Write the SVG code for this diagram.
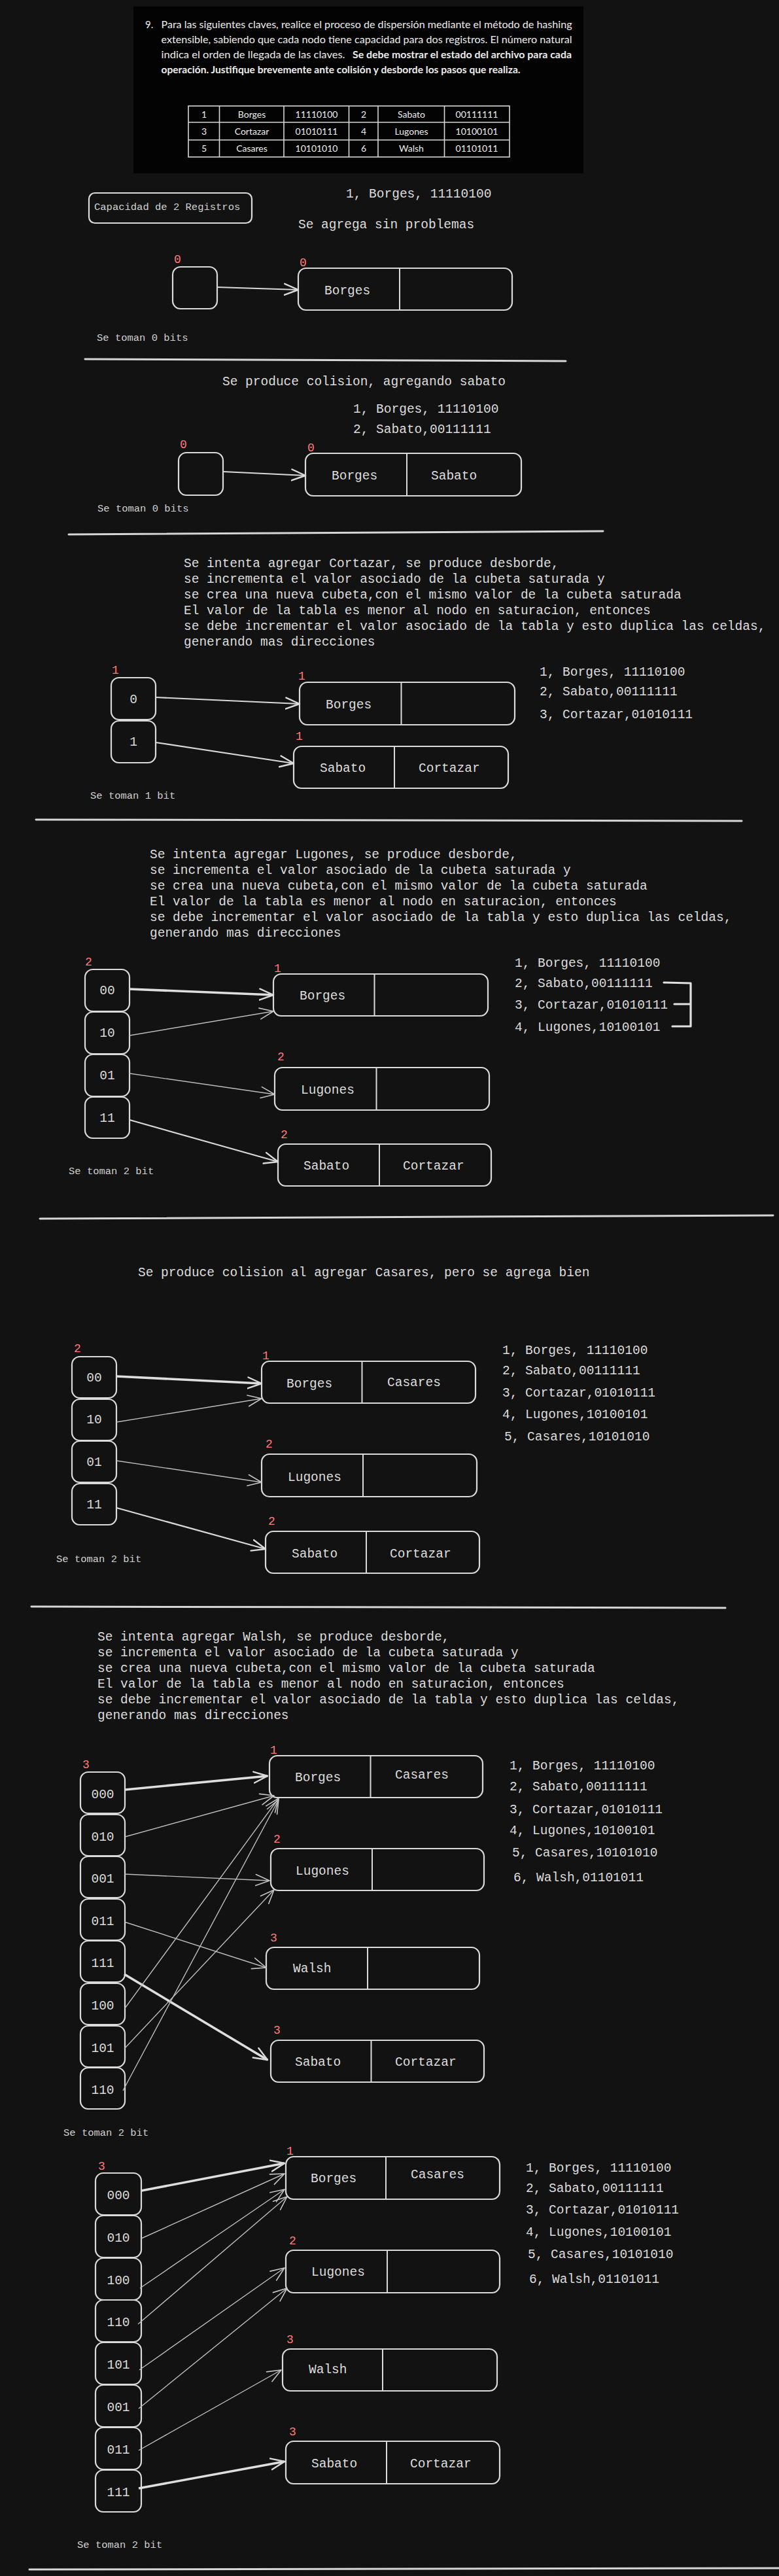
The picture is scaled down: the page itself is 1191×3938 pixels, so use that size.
<svg xmlns="http://www.w3.org/2000/svg" width="1191" height="3938" viewBox="0 0 1191 3938">
<defs>
<style>
.t{font-family:"Liberation Mono","DejaVu Sans Mono",monospace;font-size:19.5px;fill:#dcdcdc}
.s{font-family:"Liberation Mono","DejaVu Sans Mono",monospace;font-size:15.5px;fill:#d0d0d0}
.r{font-family:"Liberation Mono","DejaVu Sans Mono",monospace;font-size:18px;fill:#ff7b7b}
.m{text-anchor:middle}
.h{font-family:"Lato","Liberation Sans",sans-serif;font-size:15px;fill:#ececec}
.hb{font-weight:bold}
.ht{font-family:"Lato","Liberation Sans",sans-serif;font-size:14px;fill:#ececec;text-anchor:middle}
.b{fill:#121212;stroke:#dadada;stroke-width:2.2}
.d{stroke:#dadada;stroke-width:2}
.k{stroke:#d8d8d8;stroke-width:2.2;fill:none;marker-end:url(#a)}
.kk{stroke:#dedede;stroke-width:3.6;fill:none;marker-end:url(#a)}
.kt{stroke:#bdbdbd;stroke-width:1.4;fill:none;marker-end:url(#a2)}
.sep{stroke:#d6d6d6;stroke-width:3;fill:none;stroke-linecap:round}
</style>
<marker id="a" viewBox="0 0 24 20" refX="22" refY="10" markerWidth="24" markerHeight="20" markerUnits="userSpaceOnUse" orient="auto"><path d="M1,1.5 L22,10 L1,18.5" fill="none" stroke="#dadada" stroke-width="2.4" stroke-linecap="round" stroke-linejoin="round"/></marker>
<marker id="a2" viewBox="0 0 24 20" refX="22" refY="10" markerWidth="24" markerHeight="20" markerUnits="userSpaceOnUse" orient="auto"><path d="M1,1.5 L22,10 L1,18.5" fill="none" stroke="#c4c4c4" stroke-width="1.6" stroke-linecap="round" stroke-linejoin="round"/></marker>
</defs>
<rect x="0" y="0" width="1191" height="3938" fill="#121212"/>

<g id="enunciado">
<rect x="204" y="10" width="688" height="255" fill="#030303"/>
<text class="h" x="222" y="43">9.</text>
<text class="h" x="246.5" y="43" textLength="628" lengthAdjust="spacingAndGlyphs">Para las siguientes claves, realice el proceso de dispersión mediante el método de hashing</text>
<text class="h" x="246.5" y="66" textLength="628" lengthAdjust="spacingAndGlyphs">extensible, sabiendo que cada nodo tiene capacidad para dos registros. El número natural</text>
<text class="h" x="246.5" y="89" textLength="281" lengthAdjust="spacingAndGlyphs">indica el orden de llegada de las claves.</text>
<text class="h hb" x="539" y="89" textLength="335" lengthAdjust="spacingAndGlyphs">Se debe mostrar el estado del archivo para cada</text>
<text class="h hb" x="246.5" y="112" textLength="549" lengthAdjust="spacingAndGlyphs">operación. Justifique brevemente ante colisión y desborde los pasos que realiza.</text>
<g fill="none" stroke="#d8d8d8" stroke-width="1.6">
<rect x="288" y="162" width="491" height="78"/>
<line x1="288" y1="187" x2="779" y2="187"/>
<line x1="288" y1="214" x2="779" y2="214"/>
<line x1="335.5" y1="162" x2="335.5" y2="240"/>
<line x1="434" y1="162" x2="434" y2="240"/>
<line x1="533.5" y1="162" x2="533.5" y2="240"/>
<line x1="578" y1="162" x2="578" y2="240"/>
<line x1="679.5" y1="162" x2="679.5" y2="240"/>
</g>
<text class="ht" x="312" y="180">1</text><text class="ht" x="385" y="180">Borges</text><text class="ht" x="484" y="180">11110100</text><text class="ht" x="556" y="180">2</text><text class="ht" x="629" y="180">Sabato</text><text class="ht" x="729" y="180">00111111</text>
<text class="ht" x="312" y="206">3</text><text class="ht" x="385" y="206">Cortazar</text><text class="ht" x="484" y="206">01010111</text><text class="ht" x="556" y="206">4</text><text class="ht" x="629" y="206">Lugones</text><text class="ht" x="729" y="206">10100101</text>
<text class="ht" x="312" y="232">5</text><text class="ht" x="385" y="232">Casares</text><text class="ht" x="484" y="232">10101010</text><text class="ht" x="556" y="232">6</text><text class="ht" x="629" y="232">Walsh</text><text class="ht" x="729" y="232">01101011</text>
</g>

<g id="separadores">
<path class="sep" d="M130,549 L865,552"/>
<path class="sep" d="M105,817 L922,812"/>
<path class="sep" d="M55,1253 L1134,1255"/>
<path class="sep" d="M61,1863 L1182,1858" stroke-width="2.5"/>
<path class="sep" d="M48,2456 L1109,2458" stroke-width="2.5"/>
<path class="sep" d="M45,3928 L1191,3926" stroke-width="2.5"/>
</g>

<!-- Seccion 1 -->
<g id="capacidad">
<rect class="b" x="136" y="295" width="249" height="46" rx="9"/>
<text class="s" x="144" y="321">Capacidad de 2 Registros</text>
</g>
<g id="s1-textos">
<text class="t" x="529" y="302">1, Borges, 11110100</text>
<text class="t" x="456" y="349">Se agrega sin problemas</text>
<text class="s" x="148" y="521">Se toman 0 bits</text>
</g>
<g id="s1-tabla">
<text class="r" x="266" y="402">0</text>
<rect class="b" x="264" y="408" width="68" height="64" rx="12"/>
</g>
<g id="s1-cubeta">
<text class="r" x="458" y="407">0</text>
<rect class="b" x="456" y="410" width="327" height="64" rx="12"/>
<line class="d" x1="611" y1="410" x2="611" y2="474"/>
<text class="t" x="496" y="450">Borges</text>
</g>

<!-- Seccion 2 -->
<g id="s2-textos">
<text class="t" x="340" y="589">Se produce colision, agregando sabato</text>
<text class="t" x="540" y="631">1, Borges, 11110100</text>
<text class="t" x="540" y="662">2, Sabato,00111111</text>
<text class="s" x="149" y="782">Se toman 0 bits</text>
</g>
<g id="s2-tabla">
<text class="r" x="275" y="685">0</text>
<rect class="b" x="273" y="692" width="68" height="65" rx="12"/>
</g>
<g id="s2-cubeta">
<text class="r" x="470" y="690">0</text>
<rect class="b" x="467" y="693" width="330" height="65" rx="12"/>
<line class="d" x1="622" y1="693" x2="622" y2="758"/>
<text class="t" x="507" y="733">Borges</text>
<text class="t" x="659" y="733">Sabato</text>
</g>

<!-- Seccion 3 -->
<g id="s3-textos">
<text class="t" x="281" y="867">Se intenta agregar Cortazar, se produce desborde,</text>
<text class="t" x="281" y="891">se incrementa el valor asociado de la cubeta saturada y</text>
<text class="t" x="281" y="915">se crea una nueva cubeta,con el mismo valor de la cubeta saturada</text>
<text class="t" x="281" y="939">El valor de la tabla es menor al nodo en saturacion, entonces</text>
<text class="t" x="281" y="963">se debe incrementar el valor asociado de la tabla y esto duplica las celdas,</text>
<text class="t" x="281" y="987">generando mas direcciones</text>
<text class="t" x="825" y="1033">1, Borges, 11110100</text>
<text class="t" x="825" y="1063">2, Sabato,00111111</text>
<text class="t" x="825" y="1098">3, Cortazar,01010111</text>
<text class="s" x="138" y="1221">Se toman 1 bit</text>
</g>
<g id="s3-tabla">
<text class="r" x="171" y="1030">1</text>
<rect class="b" x="170" y="1036" width="68" height="64" rx="12"/>
<text class="t m" x="204" y="1075">0</text>
<rect class="b" x="170" y="1102" width="68" height="64" rx="12"/>
<text class="t m" x="204" y="1140">1</text>
</g>
<g id="s3-cubeta-a">
<text class="r" x="456" y="1039">1</text>
<rect class="b" x="458" y="1043" width="329" height="65" rx="12"/>
<line class="d" x1="613.5" y1="1043" x2="613.5" y2="1108"/>
<text class="t" x="498" y="1083">Borges</text>
</g>
<g id="s3-cubeta-b">
<text class="r" x="452" y="1131">1</text>
<rect class="b" x="449" y="1141" width="328" height="64" rx="12"/>
<line class="d" x1="603" y1="1141" x2="603" y2="1205"/>
<text class="t" x="489" y="1180">Sabato</text>
<text class="t" x="640" y="1180">Cortazar</text>
</g>

<!-- Seccion 4 -->
<g id="s4-textos">
<text class="t" x="229" y="1312">Se intenta agregar Lugones, se produce desborde,</text>
<text class="t" x="229" y="1336">se incrementa el valor asociado de la cubeta saturada y</text>
<text class="t" x="229" y="1360">se crea una nueva cubeta,con el mismo valor de la cubeta saturada</text>
<text class="t" x="229" y="1384">El valor de la tabla es menor al nodo en saturacion, entonces</text>
<text class="t" x="229" y="1408">se debe incrementar el valor asociado de la tabla y esto duplica las celdas,</text>
<text class="t" x="229" y="1432">generando mas direcciones</text>
<text class="t" x="787" y="1478">1, Borges, 11110100</text>
<text class="t" x="787" y="1509">2, Sabato,00111111</text>
<text class="t" x="787" y="1542">3, Cortazar,01010111</text>
<text class="t" x="787" y="1576">4, Lugones,10100101</text>
<path d="M1015,1502 L1056,1503 L1056,1569 L1028,1569 M1031,1535 L1056,1535" fill="none" stroke="#e0e0e0" stroke-width="3.2" stroke-linecap="round" stroke-linejoin="round"/>
<text class="s" x="105" y="1795">Se toman 2 bit</text>
</g>
<g id="s4-tabla">
<text class="r" x="130" y="1476">2</text>
<rect class="b" x="130" y="1482" width="68" height="64" rx="12"/>
<text class="t m" x="164" y="1520">00</text>
<rect class="b" x="130" y="1547" width="68" height="64" rx="12"/>
<text class="t m" x="164" y="1585">10</text>
<rect class="b" x="130" y="1612" width="68" height="64" rx="12"/>
<text class="t m" x="164" y="1650">01</text>
<rect class="b" x="130" y="1677" width="68" height="63" rx="12"/>
<text class="t m" x="164" y="1715">11</text>
</g>
<g id="s4-cubeta-a">
<text class="r" x="419" y="1486">1</text>
<rect class="b" x="418" y="1489" width="328" height="64" rx="12"/>
<line class="d" x1="572.5" y1="1489" x2="572.5" y2="1553"/>
<text class="t" x="458" y="1528">Borges</text>
</g>
<g id="s4-cubeta-b">
<text class="r" x="424" y="1621">2</text>
<rect class="b" x="420" y="1632" width="328" height="65" rx="12"/>
<line class="d" x1="575.5" y1="1632" x2="575.5" y2="1697"/>
<text class="t" x="460" y="1672">Lugones</text>
</g>
<g id="s4-cubeta-c">
<text class="r" x="429" y="1740">2</text>
<rect class="b" x="425" y="1749" width="326" height="64" rx="12"/>
<line class="d" x1="580" y1="1749" x2="580" y2="1813"/>
<text class="t" x="464" y="1788">Sabato</text>
<text class="t" x="616" y="1788">Cortazar</text>
</g>

<!-- Seccion 5 -->
<g id="s5-textos">
<text class="t" x="211" y="1951">Se produce colision al agregar Casares, pero se agrega bien</text>
<text class="t" x="768" y="2070">1, Borges, 11110100</text>
<text class="t" x="768" y="2101">2, Sabato,00111111</text>
<text class="t" x="768" y="2135">3, Cortazar,01010111</text>
<text class="t" x="768" y="2168">4, Lugones,10100101</text>
<text class="t" x="771" y="2202">5, Casares,10101010</text>
<text class="s" x="86" y="2388">Se toman 2 bit</text>
</g>
<g id="s5-tabla">
<text class="r" x="113" y="2067">2</text>
<rect class="b" x="110" y="2074" width="68" height="63" rx="12"/>
<text class="t m" x="144" y="2112">00</text>
<rect class="b" x="110" y="2139" width="68" height="63" rx="12"/>
<text class="t m" x="144" y="2176">10</text>
<rect class="b" x="110" y="2203" width="68" height="63" rx="12"/>
<text class="t m" x="144" y="2241">01</text>
<rect class="b" x="110" y="2268" width="68" height="63" rx="12"/>
<text class="t m" x="144" y="2306">11</text>
</g>
<g id="s5-cubeta-a">
<text class="r" x="401" y="2078">1</text>
<rect class="b" x="400" y="2081" width="327" height="64" rx="12"/>
<line class="d" x1="553.5" y1="2081" x2="553.5" y2="2145"/>
<text class="t" x="438" y="2121">Borges</text>
<text class="t" x="592" y="2119">Casares</text>
</g>
<g id="s5-cubeta-b">
<text class="r" x="406" y="2213">2</text>
<rect class="b" x="400" y="2223" width="329" height="65" rx="12"/>
<line class="d" x1="555" y1="2223" x2="555" y2="2288"/>
<text class="t" x="440" y="2264">Lugones</text>
</g>
<g id="s5-cubeta-c">
<text class="r" x="410" y="2331">2</text>
<rect class="b" x="406" y="2341" width="327" height="64" rx="12"/>
<line class="d" x1="560" y1="2341" x2="560" y2="2405"/>
<text class="t" x="446" y="2381">Sabato</text>
<text class="t" x="596" y="2381">Cortazar</text>
</g>

<!-- Seccion 6 -->
<g id="s6-textos">
<text class="t" x="149" y="2508">Se intenta agregar Walsh, se produce desborde,</text>
<text class="t" x="149" y="2532">se incrementa el valor asociado de la cubeta saturada y</text>
<text class="t" x="149" y="2556">se crea una nueva cubeta,con el mismo valor de la cubeta saturada</text>
<text class="t" x="149" y="2580">El valor de la tabla es menor al nodo en saturacion, entonces</text>
<text class="t" x="149" y="2604">se debe incrementar el valor asociado de la tabla y esto duplica las celdas,</text>
<text class="t" x="149" y="2628">generando mas direcciones</text>
<text class="t" x="779" y="2705">1, Borges, 11110100</text>
<text class="t" x="779" y="2737">2, Sabato,00111111</text>
<text class="t" x="779" y="2772">3, Cortazar,01010111</text>
<text class="t" x="779" y="2804">4, Lugones,10100101</text>
<text class="t" x="783" y="2838">5, Casares,10101010</text>
<text class="t" x="785" y="2876">6, Walsh,01101011</text>
<text class="s" x="97" y="3265">Se toman 2 bit</text>
</g>
<g id="s6-tabla">
<text class="r" x="126" y="2703">3</text>
<rect class="b" x="123" y="2709" width="68" height="63" rx="12"/><text class="t m" x="157" y="2749">000</text>
<rect class="b" x="123" y="2774" width="68" height="63" rx="12"/><text class="t m" x="157" y="2814">010</text>
<rect class="b" x="123" y="2838" width="68" height="63" rx="12"/><text class="t m" x="157" y="2878">001</text>
<rect class="b" x="123" y="2903" width="68" height="63" rx="12"/><text class="t m" x="157" y="2943">011</text>
<rect class="b" x="123" y="2967" width="68" height="63" rx="12"/><text class="t m" x="157" y="3007">111</text>
<rect class="b" x="123" y="3032" width="68" height="63" rx="12"/><text class="t m" x="157" y="3072">100</text>
<rect class="b" x="123" y="3097" width="68" height="63" rx="12"/><text class="t m" x="157" y="3137">101</text>
<rect class="b" x="123" y="3161" width="68" height="63" rx="12"/><text class="t m" x="157" y="3201">110</text>
</g>
<g id="s6-cubeta-a">
<text class="r" x="413" y="2681">1</text>
<rect class="b" x="412" y="2684" width="326" height="64" rx="12"/>
<line class="d" x1="566.5" y1="2684" x2="566.5" y2="2748"/>
<text class="t" x="451" y="2723">Borges</text>
<text class="t" x="604" y="2719">Casares</text>
</g>
<g id="s6-cubeta-b">
<text class="r" x="418" y="2817">2</text>
<rect class="b" x="414" y="2826" width="326" height="64" rx="12"/>
<line class="d" x1="569" y1="2826" x2="569" y2="2890"/>
<text class="t" x="452" y="2866">Lugones</text>
</g>
<g id="s6-cubeta-c">
<text class="r" x="413" y="2968">3</text>
<rect class="b" x="407" y="2977" width="326" height="64" rx="12"/>
<line class="d" x1="562" y1="2977" x2="562" y2="3041"/>
<text class="t" x="448" y="3015">Walsh</text>
</g>
<g id="s6-cubeta-d">
<text class="r" x="418" y="3109">3</text>
<rect class="b" x="414" y="3119" width="326" height="64" rx="12"/>
<line class="d" x1="567.5" y1="3119" x2="567.5" y2="3183"/>
<text class="t" x="451" y="3158">Sabato</text>
<text class="t" x="604" y="3158">Cortazar</text>
</g>

<!-- Seccion 7 -->
<g id="s7-textos">
<text class="t" x="804" y="3320">1, Borges, 11110100</text>
<text class="t" x="804" y="3351">2, Sabato,00111111</text>
<text class="t" x="804" y="3384">3, Cortazar,01010111</text>
<text class="t" x="804" y="3418">4, Lugones,10100101</text>
<text class="t" x="807" y="3452">5, Casares,10101010</text>
<text class="t" x="809" y="3490">6, Walsh,01101011</text>
<text class="s" x="118" y="3895">Se toman 2 bit</text>
</g>
<g id="s7-tabla">
<text class="r" x="150" y="3317">3</text>
<rect class="b" x="146" y="3322" width="70" height="64" rx="12"/><text class="t m" x="181" y="3362">000</text>
<rect class="b" x="146" y="3387" width="70" height="64" rx="12"/><text class="t m" x="181" y="3427">010</text>
<rect class="b" x="146" y="3452" width="70" height="64" rx="12"/><text class="t m" x="181" y="3492">100</text>
<rect class="b" x="146" y="3516" width="70" height="64" rx="12"/><text class="t m" x="181" y="3556">110</text>
<rect class="b" x="146" y="3581" width="70" height="64" rx="12"/><text class="t m" x="181" y="3621">101</text>
<rect class="b" x="146" y="3646" width="70" height="64" rx="12"/><text class="t m" x="181" y="3686">001</text>
<rect class="b" x="146" y="3711" width="70" height="64" rx="12"/><text class="t m" x="181" y="3751">011</text>
<rect class="b" x="146" y="3776" width="70" height="64" rx="12"/><text class="t m" x="181" y="3816">111</text>
</g>
<g id="s7-cubeta-a">
<text class="r" x="438" y="3294">1</text>
<rect class="b" x="437" y="3297" width="327" height="65" rx="12"/>
<line class="d" x1="590" y1="3297" x2="590" y2="3362"/>
<text class="t" x="475" y="3336">Borges</text>
<text class="t" x="628" y="3330">Casares</text>
</g>
<g id="s7-cubeta-b">
<text class="r" x="442" y="3431">2</text>
<rect class="b" x="437" y="3440" width="327" height="65" rx="12"/>
<line class="d" x1="592" y1="3440" x2="592" y2="3505"/>
<text class="t" x="476" y="3479">Lugones</text>
</g>
<g id="s7-cubeta-c">
<text class="r" x="438" y="3582">3</text>
<rect class="b" x="432" y="3591" width="328" height="64" rx="12"/>
<line class="d" x1="585" y1="3591" x2="585" y2="3655"/>
<text class="t" x="472" y="3628">Walsh</text>
</g>
<g id="s7-cubeta-d">
<text class="r" x="442" y="3723">3</text>
<rect class="b" x="437" y="3732" width="327" height="65" rx="12"/>
<line class="d" x1="591" y1="3732" x2="591" y2="3797"/>
<text class="t" x="476" y="3772">Sabato</text>
<text class="t" x="627" y="3772">Cortazar</text>
</g>

<g id="conectores">
<path class="k" d="M332,439 L456,443"/>
<path class="k" d="M341,721 L467,727"/>
<path class="k" d="M238,1066 L458,1076"/>
<path class="k" d="M238,1135 L449,1167"/>
<path class="kk" d="M198,1512 L418,1521"/>
<path class="kt" d="M198,1583 L418,1546"/>
<path class="kt" d="M198,1641 L420,1673"/>
<path class="k" d="M198,1712 L425,1776"/>
<path class="kk" d="M178,2104 L400,2115"/>
<path class="kt" d="M178,2174 L400,2138"/>
<path class="kt" d="M178,2233 L400,2266"/>
<path class="k" d="M178,2305 L406,2368"/>
<path class="kk" d="M191,2736 L409,2715"/>
<path class="kt" d="M191,2808 L419,2745"/>
<path class="kt" d="M190,2865 L412,2875"/>
<path class="kt" d="M190,2938 L407,3008"/>
<path class="kk" d="M190,3018 L409,3149" stroke-width="3"/>
<path class="kt" d="M191,3070 L426,2749"/>
<path class="kt" d="M190,3132 L419,2889"/>
<path class="kt" d="M188,3196 L426,2751"/>
<path class="kk" d="M216,3349 L435,3307"/>
<path class="kt" d="M216,3422 L435,3323"/>
<path class="kt" d="M214,3498 L435,3347"/>
<path class="kt" d="M211,3553 L439,3358"/>
<path class="kt" d="M213,3623 L435,3467"/>
<path class="kt" d="M212,3682 L439,3498"/>
<path class="kt" d="M212,3746 L430,3623"/>
<path class="kk" d="M212,3804 L435,3763"/>
</g>
</svg>
